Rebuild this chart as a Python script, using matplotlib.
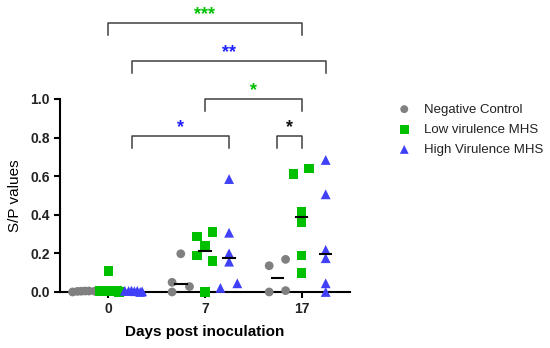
import numpy as np
import matplotlib
matplotlib.use("Agg")
import matplotlib.pyplot as plt

plt.rcParams['font.family'] = ['Liberation Sans', 'DejaVu Sans']

# data: S/P values per day and group
days = ['0', '7', '17']
groups = ['Negative Control', 'Low virulence MHS', 'High Virulence MHS']

neg_d0 = [0.0, 0.003, 0.004, 0.005, 0.005, 0.004]
neg_d7 = [0.198, 0.05, 0.028, 0.0]
neg_d17 = [0.136, 0.169, 0.0, 0.007]

low_d0 = [0.005, 0.006, 0.109, 0.006, 0.005, 0.007, 0.004, 0.0]
low_d7 = [0.288, 0.311, 0.238, 0.188, 0.159, 0.0]
low_d17 = [0.61, 0.639, 0.416, 0.359, 0.188, 0.097]

high_d0 = [0.006, 0.005, 0.007, 0.004, 0.006, 0.0, 0.003]
high_d7 = [0.585, 0.307, 0.2, 0.157, 0.045, 0.021]
high_d17 = [0.684, 0.506, 0.218, 0.175, 0.045, 0.0]

# jitter for each point (category units)
jit = {
    (0, 0): [-0.12, -0.07, -0.03, 0.01, 0.05, 0.11],
    (0, 1): [-0.09, -0.06, 0.0, -0.02, 0.03, 0.06, 0.09, 0.11],
    (0, 2): [-0.08, -0.04, -0.01, 0.02, 0.05, 0.08, 0.1],
    (1, 0): [-0.0, -0.09, 0.09, -0.09],
    (1, 1): [-0.08, 0.08, 0.0, -0.08, 0.08, 0.0],
    (1, 2): [0.0, 0.0, 0.0, 0.0, 0.085, -0.09],
    (2, 0): [-0.085, 0.085, -0.085, 0.085],
    (2, 1): [-0.085, 0.08, 0.0, 0.0, 0.0, 0.0],
    (2, 2): [0.0, 0.0, 0.0, 0.0, 0.0, 0.0],
}

data = [[neg_d0, low_d0, high_d0],
        [neg_d7, low_d7, high_d7],
        [neg_d17, low_d17, high_d17]]

colors = ['#808080', '#00c000', '#4040f8']
markers = ['o', 's', '^']
sizes = [40, 48, 50]
offsets = [-0.25, 0.0, 0.25]

# significance brackets: (day_a, group_a, day_b, group_b, y, label, color)
brackets = [
    (0, 1, 2, 1, 1.394, '***', '#00c000'),
    (0, 2, 2, 2, 1.197, '**', '#2020ff'),
    (1, 1, 2, 1, 1.0, '*', '#00c000'),
    (0, 2, 1, 2, 0.808, '*', '#2020ff'),
    (2, 0, 2, 1, 0.808, '*', '#111111'),
]

fig = plt.figure(figsize=(5.5, 3.48), dpi=100)
ax = fig.add_axes([0.1091, 0.161, 0.527, 0.5546])

for d in range(3):
    for g in range(3):
        vals = np.array(data[d][g])
        xs = d + offsets[g] + np.array(jit[(d, g)])
        ax.scatter(xs, vals, s=sizes[g], marker=markers[g], color=colors[g],
                   edgecolors='none', zorder=3, clip_on=False,
                   label=groups[g] if d == 0 else None)
        med = np.median(vals)
        ax.plot([d + offsets[g] - 0.06, d + offsets[g] + 0.06], [med, med],
                color='black', lw=1.5, zorder=4 if d > 0 else 1, clip_on=False)

for da, ga, db, gb, y, lab, c in brackets:
    x1 = da + offsets[ga]
    x2 = db + offsets[gb]
    ax.plot([x1, x1, x2, x2], [y - 0.062, y, y, y - 0.062], color='#404040',
            lw=1.1, clip_on=False, zorder=2)
    ax.text((x1 + x2) / 2, y + 0.045, lab, color=c, ha='center', va='center',
            fontsize=13, fontweight='bold', clip_on=False)

ax.set_xlim(-0.5, 2.5)
ax.set_ylim(0, 1.0)
ax.set_xticks([0, 1, 2])
ax.set_xticklabels(days)
ax.set_yticks([0, 0.2, 0.4, 0.6, 0.8, 1.0])
ax.set_yticklabels(['0.0', '0.2', '0.4', '0.6', '0.8', '1.0'])
for lab in ax.get_xticklabels() + ax.get_yticklabels():
    lab.set_fontweight('bold')
    lab.set_fontsize(10)
    lab.set_color('#222222')
ax.tick_params(width=1.5, length=4.5, color='black', pad=3)

for s in ['top', 'right']:
    ax.spines[s].set_visible(False)
for s in ['left', 'bottom']:
    ax.spines[s].set_linewidth(1.5)

ax.set_xlabel('Days post inoculation', fontsize=11, fontweight='bold', labelpad=6)
ax.set_ylabel('S/P values', fontsize=11, labelpad=6)

leg = ax.legend(loc='upper left', bbox_to_anchor=(0.723, 0.703),
                bbox_transform=fig.transFigure, frameon=False, fontsize=9.5,
                handlelength=1.0, handletextpad=1.0, labelspacing=0.6,
                borderpad=0, borderaxespad=0, markerscale=0.9)
for t in leg.get_texts():
    t.set_color('#222222')

fig.savefig('out.png', dpi=100)
